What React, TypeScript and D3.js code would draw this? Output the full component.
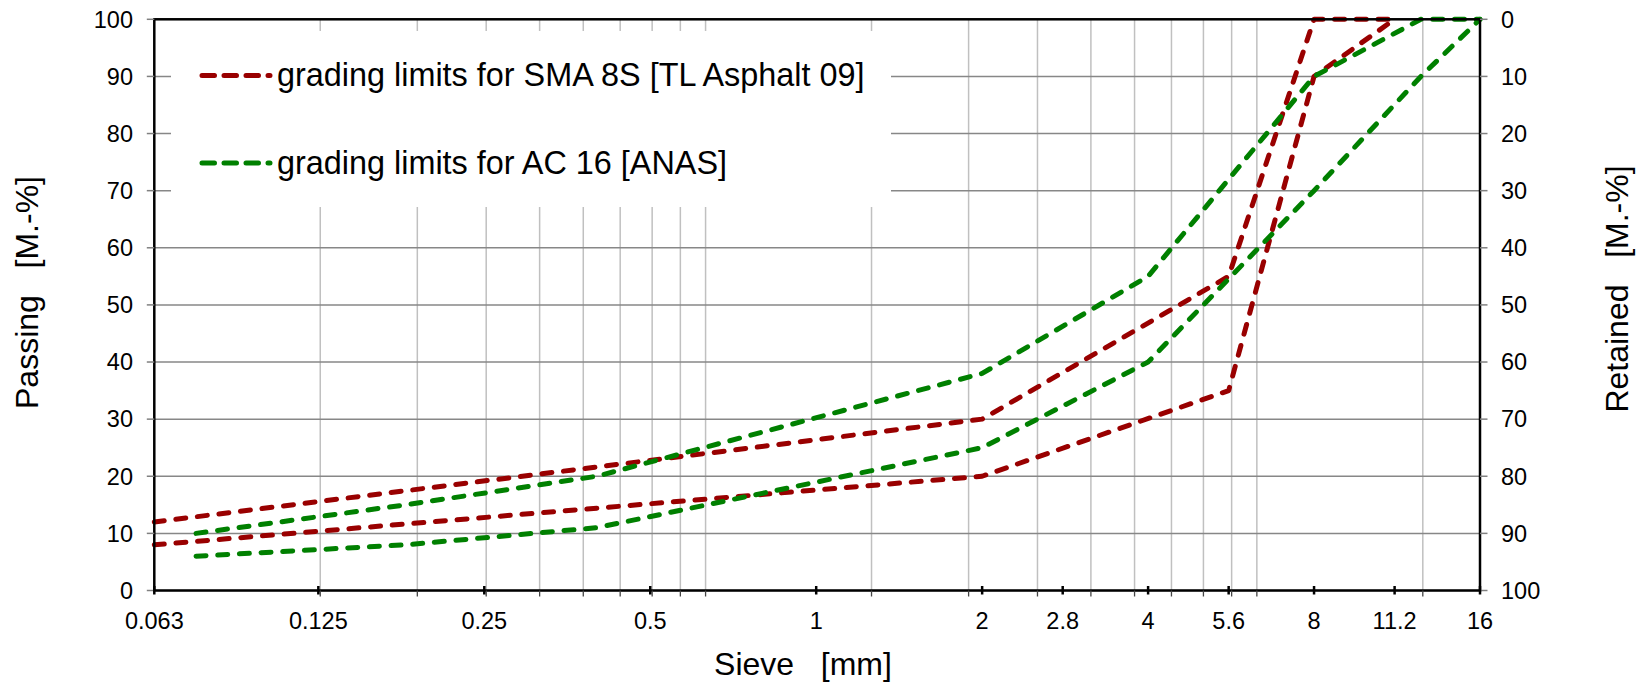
import React from "react";
import * as d3 from "d3";

// ---- data ----
const tickSieves = [0.063, 0.125, 0.25, 0.5, 1, 2, 2.8, 4, 5.6, 8, 11.2, 16];
const tickLabels = ["0.063", "0.125", "0.25", "0.5", "1", "2", "2.8", "4", "5.6", "8", "11.2", "16"];
const gridSieves = [0.126, 0.189, 0.252, 0.315, 0.378, 0.441, 0.504, 0.567, 0.63, 1.26, 1.89, 2.52, 3.15, 3.78, 4.41, 5.04, 5.67, 6.3, 12.6];
const yTicks = [0, 10, 20, 30, 40, 50, 60, 70, 80, 90, 100];

const smaSieves = [0.063, 2, 5.6, 8, 11.2];
const smaUpper = [12, 30, 55, 100, 100];
const smaLower = [8, 20, 35, 90, 100];

const anasSieves = [0.075, 0.18, 0.4, 2, 4, 8, 12.5, 16];
const anasUpper = [10, 15, 20, 38, 55, 90, 100, 100];
const anasLower = [6, 8, 11, 25, 40, 70, 90, 100];

const legendLabels = ["grading limits for SMA 8S [TL Asphalt 09]", "grading limits for AC 16 [ANAS]"];
const RED = "#990000";
const GREEN = "#008000";

const W = 1636, H = 685;
const L = 154.3, R = 1480, T = 19.3, B = 590.5;
const FONT = "'Liberation Sans', Arial, sans-serif";

export default function App() {
  const x = d3.scaleLog().domain([0.063, 16]).range([L, R]);
  const y = d3.scaleLinear().domain([0, 100]).range([B, T]);
  const line = d3.line<[number, number]>().x((d) => x(d[0])).y((d) => y(d[1]));
  const mk = (xs: number[], ys: number[]) => line(xs.map((v, i) => [v, ys[i]] as [number, number])) || "";

  const series = [
    { d: mk(smaSieves, smaUpper), c: RED },
    { d: mk(smaSieves, smaLower), c: RED },
    { d: mk(anasSieves, anasUpper), c: GREEN },
    { d: mk(anasSieves, anasLower), c: GREEN },
  ];
  const dash = "10 11.7";

  return (
    <svg width={W} height={H} style={{ position: "absolute", left: 0, top: 0, background: "#fff" }} fontFamily={FONT}>
      <rect x={0} y={0} width={W} height={H} fill="#fff" />
      {/* vertical gridlines */}
      {gridSieves.map((s, i) => (
        <line key={"vg" + i} x1={x(s)} x2={x(s)} y1={T} y2={B} stroke="#c0c0c0" strokeWidth={1.5} />
      ))}
      {/* horizontal gridlines */}
      {yTicks.map((v, i) => (
        <line key={"hg" + i} x1={L} x2={R} y1={y(v)} y2={y(v)} stroke="#878787" strokeWidth={1.5} />
      ))}
      {/* legend background */}
      <rect x={171} y={31} width={720} height={176} fill="#fff" />
      {/* series */}
      {series.map((s, i) => (
        <path key={"s" + i} d={s.d} fill="none" stroke={s.c} strokeWidth={5} strokeDasharray={dash} strokeLinecap="round" strokeLinejoin="round" />
      ))}
      {/* frame */}
      <rect x={L} y={T} width={R - L} height={B - T} fill="none" stroke="#000" strokeWidth={2.5} />
      {/* y ticks */}
      {yTicks.map((v, i) => (
        <g key={"yt" + i}>
          <line x1={L - 7.5} x2={L} y1={y(v)} y2={y(v)} stroke="#808080" strokeWidth={1.5} />
          <line x1={R} x2={R + 7.5} y1={y(v)} y2={y(v)} stroke="#808080" strokeWidth={1.5} />
          <text x={133} y={y(v) + 8.3} textAnchor="end" fontSize={23.5} fill="#000">{v}</text>
          <text x={1501} y={y(v) + 8.3} textAnchor="start" fontSize={23.5} fill="#000">{100 - v}</text>
        </g>
      ))}
      {/* x minor ticks */}
      {gridSieves.map((s, i) => (
        <line key={"mt" + i} x1={x(s)} x2={x(s)} y1={B} y2={B + 6} stroke="#444" strokeWidth={1.3} />
      ))}
      {/* x major ticks + labels */}
      {tickSieves.map((s, i) => (
        <g key={"xt" + i}>
          <line x1={x(s)} x2={x(s)} y1={B - 4.5} y2={B + 4} stroke="#000" strokeWidth={2.5} />
          <text x={x(s)} y={628.5} textAnchor="middle" fontSize={23.5} fill="#000">{tickLabels[i]}</text>
        </g>
      ))}
      {/* axis titles */}
      <text x={803} y={675} textAnchor="middle" fontSize={32} style={{ whiteSpace: "pre" }}>{"Sieve   [mm]"}</text>
      <text transform="translate(37.5,292.5) rotate(-90)" textAnchor="middle" fontSize={32} style={{ whiteSpace: "pre" }}>{"Passing   [M.-%]"}</text>
      <text transform="translate(1627.5,289) rotate(-90)" textAnchor="middle" fontSize={32} style={{ whiteSpace: "pre" }}>{"Retained   [M.-%]"}</text>
      {/* legend */}
      {[RED, GREEN].map((c, i) => {
        const ly = i === 0 ? 75.5 : 163;
        return (
          <g key={"lg" + i}>
            <line x1={202} x2={270} y1={ly} y2={ly} stroke={c} strokeWidth={5} strokeDasharray="12.5 9.5" strokeLinecap="round" />
            <text x={277} y={ly + 10.5} fontSize={32.4} fill="#000">{legendLabels[i]}</text>
          </g>
        );
      })}
    </svg>
  );
}
